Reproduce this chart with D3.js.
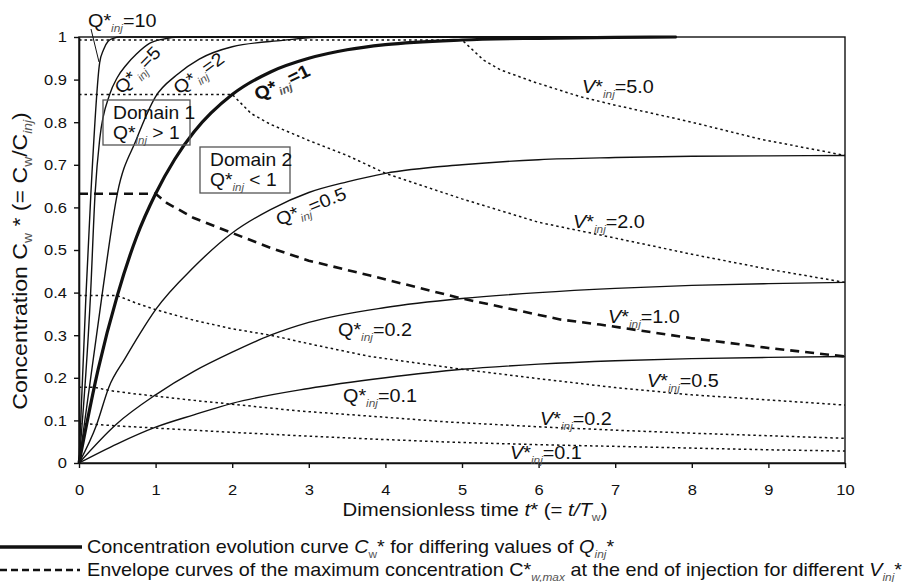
<!DOCTYPE html>
<html>
<head>
<meta charset="utf-8">
<script src="https://cdn.jsdelivr.net/npm/d3@7"></script>
<style>
  body { margin: 0; background: #fff; }
  text { font-family: Arial, "Liberation Sans", sans-serif; fill: #111; }
</style>
</head>
<body>
<script>
// axis ticks
var tTicks = [0, 1, 2, 3, 4, 5, 6, 7, 8, 9, 10];
var cTicks = [0, 0.1, 0.2, 0.3, 0.4, 0.5, 0.6, 0.7, 0.8, 0.9, 1];

// concentration evolution curves, Q*inj
var q10T = [0, 0.09, 0.155, 0.27, 0.32, 0.38, 0.45, 0.53, 7.8];
var q10C = [0, 0.39, 0.632, 0.94, 0.97, 0.99, 0.997, 1, 1];
var q5T = [0, 0.15, 0.21, 0.27, 0.4, 0.5, 0.62, 0.75, 0.92, 1.1, 1.3, 7.8];
var q5C = [0, 0.393, 0.632, 0.76, 0.865, 0.905, 0.935, 0.96, 0.985, 0.995, 1, 1];
var q2T = [0, 0.3, 0.5, 0.75, 1, 1.27, 1.57, 2, 2.66, 3.2, 7.8];
var q2C = [0, 0.393, 0.632, 0.76, 0.86, 0.91, 0.948, 0.977, 0.992, 1, 1];
var q1T = [0, 0.25, 0.5, 0.75, 1, 1.25, 1.5, 2, 2.5, 3, 3.5, 4, 5, 6, 7, 7.8];
var q1C = [0, 0.22, 0.393, 0.53, 0.632, 0.713, 0.777, 0.865, 0.918, 0.95, 0.97, 0.982, 0.993, 0.997, 0.999, 1];
var q05T = [0, 0.23, 0.39, 0.6, 0.8, 1, 1.5, 2, 2.5, 3, 3.5, 4, 5, 6, 7, 8, 9, 10];
var q05C = [0, 0.09, 0.178, 0.245, 0.305, 0.36, 0.46, 0.54, 0.595, 0.635, 0.66, 0.68, 0.7, 0.712, 0.717, 0.72, 0.721, 0.722];
var q02T = [0, 0.48, 1, 1.5, 2, 2.5, 3, 4, 5, 6, 7, 8, 9, 10];
var q02C = [0, 0.09, 0.16, 0.215, 0.26, 0.3, 0.33, 0.365, 0.386, 0.4, 0.41, 0.417, 0.421, 0.424];
var q01T = [0, 0.5, 1, 1.5, 2, 3, 4, 5, 6, 7, 8, 9, 10];
var q01C = [0, 0.045, 0.084, 0.113, 0.14, 0.175, 0.2, 0.22, 0.232, 0.24, 0.245, 0.248, 0.25];

// envelope curves, V*inj
var v5T = [0, 5, 5.28, 5.5, 5.93, 6.54, 7, 7.58, 8, 8.9, 10];
var v5C = [0.993, 0.993, 0.946, 0.923, 0.895, 0.86, 0.84, 0.817, 0.8, 0.76, 0.722];
var v2T = [0, 2, 2.25, 2.5, 3, 3.5, 4, 5, 6, 7, 8, 9, 10];
var v2C = [0.865, 0.865, 0.82, 0.795, 0.757, 0.722, 0.68, 0.62, 0.565, 0.528, 0.49, 0.455, 0.424];
var v1T = [0, 1, 1.15, 1.5, 2, 2.5, 3, 3.8, 5, 6.28, 6.8, 8, 9, 10];
var v1C = [0.632, 0.632, 0.61, 0.575, 0.54, 0.505, 0.475, 0.44, 0.386, 0.337, 0.325, 0.293, 0.27, 0.25];
var v05T = [0, 0.5, 0.75, 1, 1.5, 2, 2.5, 3, 3.8, 5, 6, 7, 8, 9, 10];
var v05C = [0.393, 0.393, 0.375, 0.36, 0.335, 0.315, 0.3, 0.28, 0.25, 0.22, 0.198, 0.177, 0.16, 0.148, 0.136];
var v02T = [0, 0.2, 0.4, 0.7, 1, 1.5, 2, 2.88, 3.8, 4.84, 6, 7, 8, 9, 10];
var v02C = [0.178, 0.178, 0.17, 0.163, 0.157, 0.147, 0.138, 0.122, 0.11, 0.096, 0.085, 0.077, 0.07, 0.064, 0.058];
var v01T = [0, 0.1, 0.5, 1, 2, 2.88, 4, 4.84, 6, 7, 8, 9, 10];
var v01C = [0.092, 0.092, 0.087, 0.082, 0.072, 0.064, 0.055, 0.049, 0.043, 0.039, 0.035, 0.031, 0.028];

var width = 906, height = 582;
var pLeft = 79, pRight = 845, pTop = 37, pBottom = 463;
var stretch = "scale(1.1,1)"; // the source lettering is a bit wide

var svg = d3.select("body").append("svg")
  .attr("width", width)
  .attr("height", height);

var x = d3.scaleLinear().domain([0, 10]).range([pLeft, pRight]);
var y = d3.scaleLinear().domain([0, 1]).range([pBottom, pTop]);

function pts(ts, cs) {
  return ts.map(function(t, i) { return [t, cs[i]]; });
}

var smooth = d3.line()
  .x(function(d) { return x(d[0]); })
  .y(function(d) { return y(d[1]); })
  .curve(d3.curveMonotoneX);
var straight = d3.line()
  .x(function(d) { return x(d[0]); })
  .y(function(d) { return y(d[1]); });

// plot frame
svg.append("rect")
  .attr("x", pLeft).attr("y", pTop)
  .attr("width", pRight - pLeft).attr("height", pBottom - pTop)
  .attr("fill", "none").attr("stroke", "#111").attr("stroke-width", 1.4);

// envelope curves (dotted)
var envs = [[v5T, v5C], [v2T, v2C], [v05T, v05C], [v02T, v02C], [v01T, v01C]];
envs.forEach(function(e) {
  svg.append("path")
    .attr("d", straight(pts(e[0], e[1])))
    .attr("fill", "none").attr("stroke", "#111")
    .attr("stroke-width", 1.5)
    .attr("stroke-dasharray", "2.5,3");
});
svg.append("path")
  .attr("d", straight(pts(v1T, v1C)))
  .attr("fill", "none").attr("stroke", "#111")
  .attr("stroke-width", 2.6)
  .attr("stroke-dasharray", "9,6");

// concentration curves
var curves = [[q10T, q10C], [q5T, q5C], [q2T, q2C], [q05T, q05C], [q02T, q02C], [q01T, q01C]];
curves.forEach(function(c) {
  svg.append("path")
    .attr("d", smooth(pts(c[0], c[1])))
    .attr("fill", "none").attr("stroke", "#111")
    .attr("stroke-width", 1.4);
});
svg.append("path")
  .attr("d", smooth(pts(q1T, q1C)))
  .attr("fill", "none").attr("stroke", "#111")
  .attr("stroke-width", 3.2);

// axes
var xAxis = d3.axisBottom(x).tickValues(tTicks).tickSize(5).tickSizeOuter(0).tickPadding(16);
var yAxis = d3.axisLeft(y).tickValues(cTicks).tickSize(5).tickSizeOuter(0).tickPadding(6)
  .tickFormat(function(d) { return String(d); });

var gx = svg.append("g").attr("transform", "translate(0," + pBottom + ")").call(xAxis);
var gy = svg.append("g").attr("transform", "translate(" + pLeft + ",0)").call(yAxis);
[gx, gy].forEach(function(g) {
  g.selectAll("path").attr("stroke", "#111").attr("stroke-width", 1.6);
  g.selectAll("line").attr("stroke", "#111").attr("stroke-width", 1.4);
  g.selectAll("text").attr("font-size", 15).attr("transform", stretch)
    .attr("font-family", "Arial, 'Liberation Sans', sans-serif").attr("fill", "#222");
});

// rich text helper: parts = [text, style] with style among "", "i", "sub", "subi"
function rich(g, parts, size) {
  var t = g.append("text").attr("font-size", size).attr("transform", stretch);
  var shift = 0;
  parts.forEach(function(p) {
    var s = t.append("tspan").text(p[0]);
    var st = p[1] || "";
    var want = st.indexOf("sub") === 0 ? 5 : 0;
    if (want !== shift) { s.attr("dy", want - shift); shift = want; }
    if (st.indexOf("sub") === 0) s.attr("font-size", size * 0.6).attr("fill", "#555");
    if (st === "i" || st === "subi") s.attr("font-style", "italic");
  });
  return t;
}

// axis titles
var xt = svg.append("g").attr("transform", "translate(475,516)");
rich(xt, [["Dimensionless time "], ["t", "i"], ["* (= "], ["t/T", "i"], ["w", "sub"], [")"]], 18.5)
  .attr("text-anchor", "middle");
var yt = svg.append("g").attr("transform", "translate(27,261) rotate(-90)");
rich(yt, [["Concentration C"], ["w", "sub"], [" * (= C"], ["w", "sub"], ["/C"], ["inj", "subi"], [")"]], 21)
  .attr("text-anchor", "middle");

// curve labels
function qLabel(px, py, rot, sym, tail, bold) {
  var g = svg.append("g").attr("transform", "translate(" + px + "," + py + ") rotate(" + rot + ")");
  var t = rich(g, [[sym, sym === "V" ? "i" : ""], ["*"], ["inj", "subi"], [tail]], 18);
  if (bold) t.attr("font-weight", "bold");
}
qLabel(88, 27, 0, "Q", "=10");
qLabel(122, 95, -46, "Q", "=5");
qLabel(179, 95, -36, "Q", "=2");
qLabel(258, 101, -26, "Q", "=1", true);
qLabel(279, 226, -22, "Q", "=0.5");
qLabel(338, 336, 0, "Q", "=0.2");
qLabel(343, 402, 0, "Q", "=0.1");
qLabel(582, 93, 0, "V", "=5.0");
qLabel(573, 228, 0, "V", "=2.0");
qLabel(608, 323, 0, "V", "=1.0");
qLabel(647, 387, 0, "V", "=0.5");
qLabel(540, 425, 0, "V", "=0.2");
qLabel(510, 459, 0, "V", "=0.1");

// leader for Q*=10
svg.append("line").attr("x1", 91).attr("y1", 29).attr("x2", 99).attr("y2", 62)
  .attr("stroke", "#111").attr("stroke-width", 1);

// domain boxes
function domainBox(bx, by, bw, bh, name, cmp) {
  svg.append("rect").attr("x", bx).attr("y", by).attr("width", bw).attr("height", bh)
    .attr("fill", "none").attr("stroke", "#555").attr("stroke-width", 1.3);
  var g1 = svg.append("g").attr("transform", "translate(" + (bx + 10) + "," + (by + 19) + ")");
  rich(g1, [[name]], 17.5);
  var g2 = svg.append("g").attr("transform", "translate(" + (bx + 10) + "," + (by + 39) + ")");
  rich(g2, [["Q"], ["*"], ["inj", "subi"], [cmp]], 17.5);
}
domainBox(103, 100, 87, 45, "Domain 1", " > 1");
domainBox(200, 147, 90, 46, "Domain 2", " < 1");

// legend
svg.append("line").attr("x1", 0).attr("x2", 82).attr("y1", 547).attr("y2", 547)
  .attr("stroke", "#111").attr("stroke-width", 3.4);
svg.append("line").attr("x1", 0).attr("x2", 80).attr("y1", 570).attr("y2", 570)
  .attr("stroke", "#111").attr("stroke-width", 2.6).attr("stroke-dasharray", "7,4");
var l1 = svg.append("g").attr("transform", "translate(87,553)");
rich(l1, [["Concentration evolution curve "], ["C", "i"], ["w", "sub"], ["* for differing values of "], ["Q", "i"], ["inj", "subi"], ["*"]], 18);
var l2 = svg.append("g").attr("transform", "translate(87,576)");
rich(l2, [["Envelope curves of the maximum concentration C"], ["*"], ["w,max", "subi"], [" at the end of injection for different "], ["V", "i"], ["inj", "subi"], ["*"]], 18);
</script>
</body>
</html>
